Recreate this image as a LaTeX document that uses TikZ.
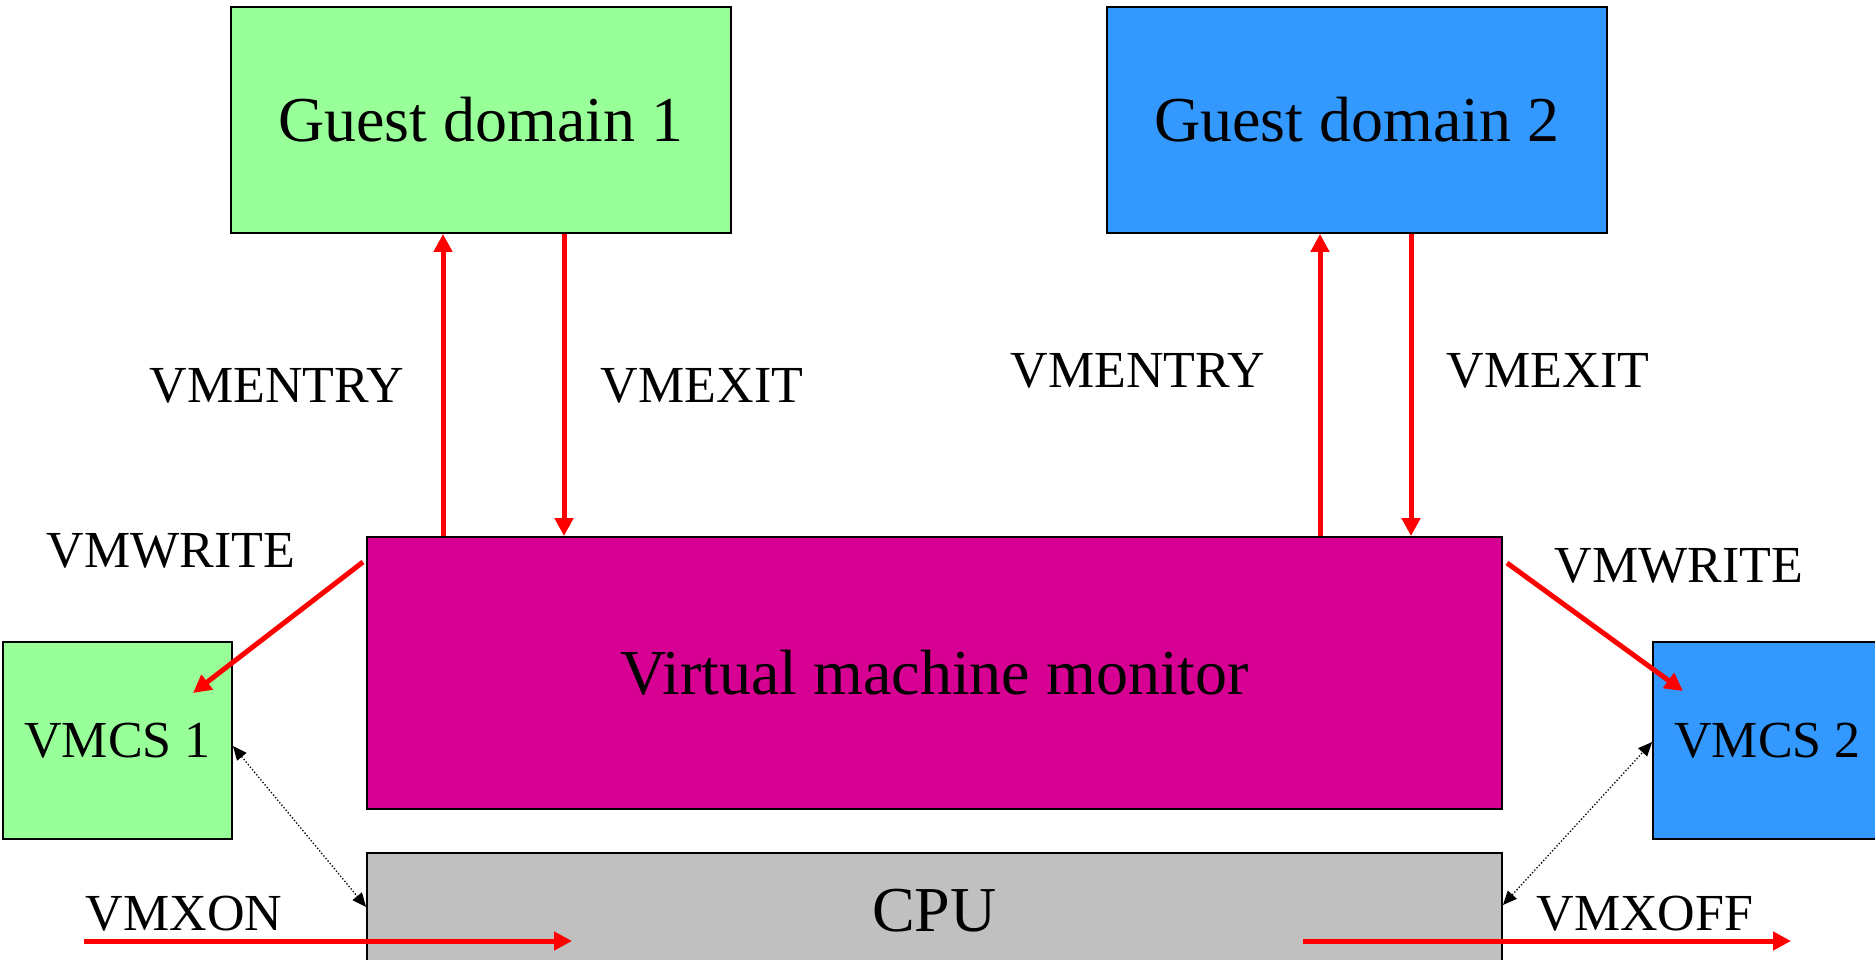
\documentclass[tikz,border=0pt]{standalone}
\usepackage{fontspec}
\setmainfont{Liberation Serif}
\usetikzlibrary{arrows.meta}

\definecolor{gdgreen}{HTML}{99FF99}
\definecolor{gdblue}{HTML}{3399FF}
\definecolor{vmmpink}{HTML}{D60093}
\definecolor{cpugray}{HTML}{C0C0C0}
\definecolor{arrowred}{HTML}{FF0000}

\tikzset{
  box/.style={draw=black, line width=1.8bp, inner sep=0pt, align=center,
    font=\fontsize{64bp}{70bp}\selectfont},
  smallbox/.style={box, font=\fontsize{52bp}{58bp}\selectfont},
  lbl/.style={inner sep=0pt, anchor=base, font=\fontsize{52bp}{58bp}\selectfont},
  redarrow/.style={draw=arrowred, line width=5bp,
    -{Triangle[length=18bp, width=18bp]}},
  dotarrow/.style={draw=black, line width=1.3bp, dotted,
    {Triangle[length=14bp, width=12bp]}-{Triangle[length=14bp, width=12bp]}}
}

\begin{document}
\begin{tikzpicture}[x=1bp, y=-1bp]
  \useasboundingbox (0,0) rectangle (1875,959);

  % guest domains
  \node[box, fill=gdgreen, minimum width=500bp, minimum height=226bp] (gd1) at (481,120) {Guest domain 1};
  \node[box, fill=gdblue, minimum width=500bp, minimum height=226bp] (gd2) at (1357,120) {Guest domain 2};

  % hypervisor and processor
  \node[box, fill=vmmpink, minimum width=1135bp, minimum height=272bp] (vmm) at (934.5,673) {Virtual machine monitor};
  \node[box, fill=cpugray, minimum width=1135bp, minimum height=116bp] (cpu) at (934.5,911) {CPU};

  % control structures
  \node[smallbox, fill=gdgreen, minimum width=229bp, minimum height=197bp] (vmcs1) at (117.5,740.5) {VMCS 1};
  \node[smallbox, fill=gdblue, minimum width=229bp, minimum height=197bp] (vmcs2) at (1767.5,740.5) {VMCS 2};

  % columns of the entry/exit transitions
  \coordinate (e1) at (443,0);
  \coordinate (x1) at (564,0);
  \coordinate (e2) at (1320,0);
  \coordinate (x2) at (1411,0);

  \draw[redarrow] (vmm.north -| e1) -- (gd1.south -| e1);
  \draw[redarrow] (gd1.south -| x1) -- (vmm.north -| x1);
  \draw[redarrow] (vmm.north -| e2) -- (gd2.south -| e2);
  \draw[redarrow] (gd2.south -| x2) -- (vmm.north -| x2);

  \node[lbl] (lentry1) at (277,402) {VMENTRY};
  \node[lbl] (lexit1) at (702,402) {VMEXIT};
  \node[lbl] (lentry2) at (1138,387) {VMENTRY};
  \node[lbl] (lexit2) at (1548,387) {VMEXIT};

  % VMWRITE into the control structures
  \coordinate (w1s) at (363,562);
  \coordinate (w1e) at (193,693);
  \coordinate (w2s) at (1507,563);
  \coordinate (w2e) at (1683,691);
  \draw[redarrow] (w1s) -- (w1e);
  \draw[redarrow] (w2s) -- (w2e);
  \node[lbl] (lwrite1) at (171,567) {VMWRITE};
  \node[lbl] (lwrite2) at (1679,582) {VMWRITE};

  % links between the CPU and the control structures
  \coordinate (d1a) at (vmcs1.east |- 0,746);
  \coordinate (d1b) at (cpu.west |- 0,907);
  \coordinate (d2a) at (cpu.east |- 0,905);
  \coordinate (d2b) at (vmcs2.west |- 0,742);
  \draw[dotarrow] (d1a) -- (d1b);
  \draw[dotarrow] (d2a) -- (d2b);

  % switching VMX operation on and off
  \coordinate (ons) at (84,941);
  \coordinate (one) at (572,941);
  \coordinate (offs) at (1303,941);
  \coordinate (offe) at (1791,941);
  \draw[redarrow] (ons) -- (one);
  \draw[redarrow] (offs) -- (offe);
  \node[lbl] (lon) at (184,930) {VMXON};
  \node[lbl] (loff) at (1645,930) {VMXOFF};
\end{tikzpicture}
\end{document}
